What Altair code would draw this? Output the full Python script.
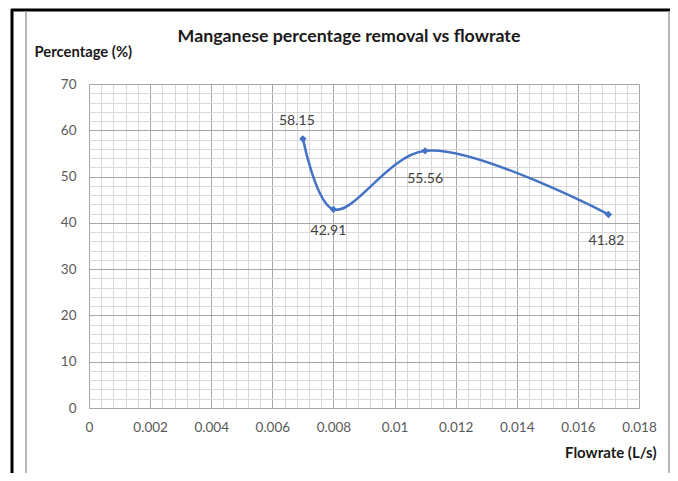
import altair as alt
import pandas as pd

# Data
flowrate = [0.007, 0.008, 0.011, 0.017]
percentage = [58.15, 42.91, 55.56, 41.82]
point_labels = ["58.15", "42.91", "55.56", "41.82"]

x_ticks = [round(i * 0.0004, 4) for i in range(46)]
y_ticks = list(range(0, 72, 2))

TITLE = "Manganese percentage removal vs flowrate"

df = pd.DataFrame({"flow": flowrate, "pct": percentage, "lab": point_labels})

FONT = "Lato"
BLUE = "#4472C4"
W, H = 550, 324

x_axis = alt.Axis(
    values=x_ticks,
    labelExpr="round(datum.value*10000) % 20 == 0 ? format(datum.value, '.3~f') : ''",
    gridColor={"condition": {"test": "round(datum.value*10000) % 20 == 0", "value": "#a6a6a6"}, "value": "#d9d9d9"},
    grid=True, ticks=False, domain=False,
    labelFont=FONT, labelFontSize=13.5, labelColor="#595959", labelPadding=12,
    labelFlush=False, labelOverlap=False,
    title="Flowrate (L/s)", titleFont=FONT, titleFontSize=15, titleFontWeight="bold",
    titleColor="#1a1a1a", titleX=567, titleY=44, titleAlign="right", titleBaseline="middle",
)
y_axis = alt.Axis(
    values=y_ticks,
    labelExpr="datum.value % 10 == 0 ? datum.label : ''",
    gridColor={"condition": {"test": "datum.value % 10 == 0", "value": "#a6a6a6"}, "value": "#d9d9d9"},
    grid=True, ticks=False, domain=False,
    labelFont=FONT, labelFontSize=13.5, labelColor="#595959", labelPadding=13,
    labelOverlap=False,
    title="Percentage (%)", titleFont=FONT, titleFontSize=14.8, titleFontWeight="bold",
    titleColor="#1a1a1a", titleAngle=0, titleX=-55, titleY=-32, titleAlign="left",
    titleBaseline="middle",
)

xs = alt.Scale(domain=[0, 0.018], nice=False, zero=False)
ys = alt.Scale(domain=[0, 70], nice=False)

base = alt.Chart(df).encode(
    x=alt.X("flow:Q", scale=xs, axis=x_axis),
    y=alt.Y("pct:Q", scale=ys, axis=y_axis),
)

line = base.mark_line(color=BLUE, strokeWidth=2.5, interpolate="catmull-rom")
pts = base.mark_point(shape="diamond", filled=True, color=BLUE, size=55, opacity=1)

offsets = [(-6, -18), (-5, 22), (0, 28), (-2, 27)]
label_layers = []
for i, (ddx, ddy) in enumerate(offsets):
    label_layers.append(
        base.transform_filter(alt.datum.lab == point_labels[i])
        .mark_text(font=FONT, fontSize=14, color="#404040", dx=ddx, dy=ddy, baseline="middle")
        .encode(text="lab:N")
    )

one = alt.Chart(pd.DataFrame({"k": [0]}))
title_mark = one.mark_text(font=FONT, fontSize=17.8, fontWeight="bold", color="#1a1a1a",
                           align="center", baseline="middle").encode(
    x=alt.value(260), y=alt.value(-47), text=alt.value(TITLE))
frame = [
    one.mark_rule(color="#000000", strokeWidth=3, clip=False).encode(
        x=alt.value(-78), x2=alt.value(585), y=alt.value(-74), y2=alt.value(-74)),
    one.mark_rule(color="#000000", strokeWidth=3, clip=False).encode(
        x=alt.value(-77), x2=alt.value(-77), y=alt.value(-75), y2=alt.value(400)),
    one.mark_rule(color="#a0a0a0", strokeWidth=1.5, clip=False).encode(
        x=alt.value(-63), x2=alt.value(-63), y=alt.value(-73), y2=alt.value(400)),
    one.mark_rule(color="#a0a0a0", strokeWidth=1.5, clip=False).encode(
        x=alt.value(580), x2=alt.value(580), y=alt.value(-73), y2=alt.value(400)),
]

chart = alt.layer(line, pts, *label_layers, title_mark, *frame).properties(
    width=W, height=H,
    autosize=alt.AutoSizeParams(type="none"),
    padding={"left": 81, "top": 76, "right": 31, "bottom": 65},
).configure_view(stroke=None)

chart.save("out.html", embed_options={"renderer": "svg", "actions": False})
